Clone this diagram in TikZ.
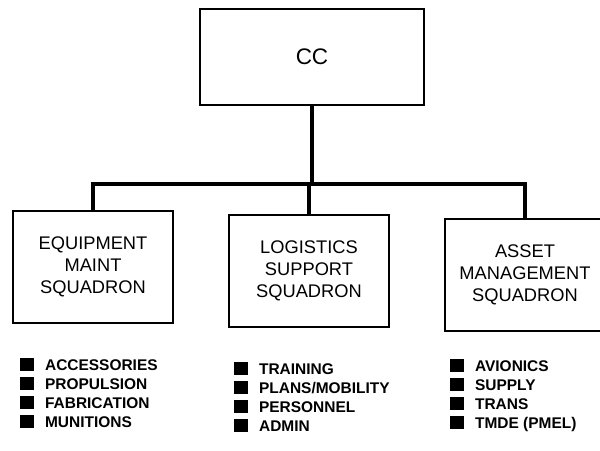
\documentclass[tikz,border=0pt]{standalone}
\usepackage{fontspec}
\setmainfont{Liberation Sans}
\usepackage{tikz}

\newcommand{\blk}{\rule[-0.02cm]{0.34cm}{0.32cm}\hspace{0.28cm}}

\tikzset{
  unit/.style={draw,line width=1.1pt,minimum width=4cm,minimum height=2.8cm,align=center,
    font=\fontsize{13}{15.6}\selectfont},
  link/.style={line width=2.7pt},
  item/.style={anchor=base west,inner sep=0pt,font=\fontsize{11}{13}\selectfont\bfseries}
}

\begin{document}
\begin{tikzpicture}
[x=0.025cm,y=-0.025cm]
\useasboundingbox (0,0) rectangle (600,450);

\node[unit,minimum width=5.6cm,minimum height=2.4cm,font=\fontsize{16}{19}\selectfont](cc) at (312,57) {CC};

\node[unit](equip) at (93,267) {EQUIPMENT\\MAINT\\SQUADRON};
\node[unit](logist) at (309,271) {LOGISTICS\\SUPPORT\\SQUADRON};
\node[unit](asset) at (525,275) {ASSET\\MANAGEMENT\\SQUADRON};

\coordinate (bus) at (312,184);

\draw[link] (cc) -- (bus);
\draw[link] (equip) |- (bus) -| (asset);
\draw[link] (logist) -- (logist |- bus);

% flights under each squadron
\node[item](e1) at (20,370) {\blk ACCESSORIES};
\node[item](e2) at (20,389) {\blk PROPULSION};
\node[item](e3) at (20,408) {\blk FABRICATION};
\node[item](e4) at (20,427) {\blk MUNITIONS};

\node[item](l1) at (234,374) {\blk TRAINING};
\node[item](l2) at (234,393) {\blk PLANS/MOBILITY};
\node[item](l3) at (234,412) {\blk PERSONNEL};
\node[item](l4) at (234,431) {\blk ADMIN};

\node[item](a1) at (450,371) {\blk AVIONICS};
\node[item](a2) at (450,390) {\blk SUPPLY};
\node[item](a3) at (450,409) {\blk TRANS};
\node[item](a4) at (450,428) {\blk TMDE (PMEL)};

\end{tikzpicture}
\end{document}
